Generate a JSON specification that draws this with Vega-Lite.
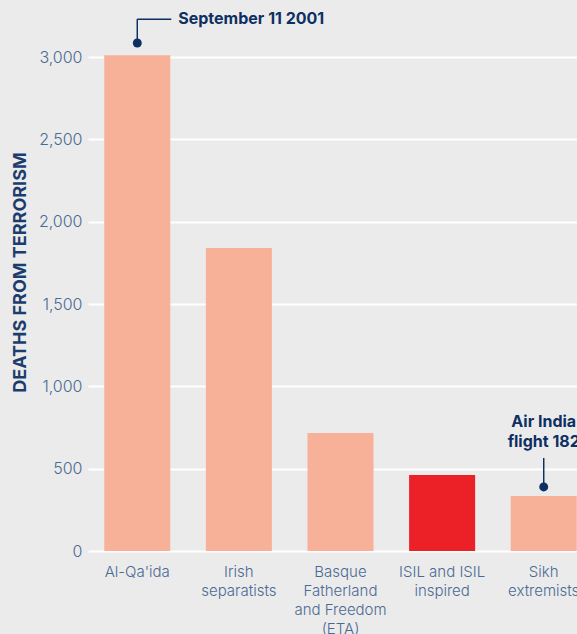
{
  "$schema": "https://vega.github.io/schema/vega-lite/v6.json",
  "autosize": {"type": "none"},
  "width": 505,
  "height": 494,
  "padding": {"left": 88, "top": 57, "right": 0, "bottom": 83},
  "background": "#ebebeb",
  "config": {
    "view": {"stroke": null},
    "font": "Inter",
    "axis": {"labelFont": "Inter", "titleFont": "Inter"}
  },
  "datasets": {
    "bars": [
      {"group": "Al-Qa'ida", "deaths": 3010, "highlight": "no"},
      {"group": "Irish|separatists", "deaths": 1840, "highlight": "no"},
      {"group": "Basque|Fatherland|and Freedom|(ETA)", "deaths": 716, "highlight": "no"},
      {"group": "ISIL and ISIL|inspired", "deaths": 461, "highlight": "yes"},
      {"group": "Sikh|extremists", "deaths": 334, "highlight": "no"}
    ],
    "notes": [
      {"group": "Al-Qa'ida", "dot": 3085, "top": 3230, "textY": 3230, "note": "September 11 2001"},
      {"group": "Sikh|extremists", "dot": 389, "top": 565, "textY": 784, "note": "Air India\nflight 182"}
    ]
  },
  "encoding": {
    "x": {
      "field": "group",
      "type": "nominal",
      "sort": null,
      "scale": {"paddingInner": 0.35, "paddingOuter": 0.16},
      "axis": {
        "title": null,
        "labelAngle": 0,
        "labelExpr": "split(datum.value, '|')",
        "labelFontSize": 15,
        "labelFontWeight": 300,
        "labelColor": "#4a6a94",
        "labelLineHeight": 19,
        "labelPadding": 13,
        "labelBaseline": "top",
        "domain": false,
        "ticks": false
      }
    }
  },
  "layer": [
    {
      "data": {"name": "bars"},
      "mark": {"type": "bar"},
      "encoding": {
        "y": {
          "field": "deaths",
          "type": "quantitative",
          "scale": {"domain": [0, 3000], "nice": false},
          "axis": {
            "title": "DEATHS FROM TERRORISM",
            "titleFontSize": 18,
            "titleFontWeight": "bold",
            "titleColor": "#1b3d6e",
            "titleAngle": -90,
            "titleX": -68,
            "titleY": 215,
            "titleAlign": "center",
            "titleBaseline": "middle",
            "values": [0, 500, 1000, 1500, 2000, 2500, 3000],
            "format": ",d",
            "labelFontSize": 16,
            "labelFontWeight": 300,
            "labelColor": "#4a6a94",
            "labelPadding": 6,
            "domain": false,
            "ticks": false,
            "grid": true,
            "gridColor": "#ffffff",
            "gridWidth": 2
          }
        },
        "color": {
          "field": "highlight",
          "type": "nominal",
          "scale": {"domain": ["no", "yes"], "range": ["#f8b199", "#ec2128"]},
          "legend": null
        }
      }
    },
    {
      "data": {"name": "notes"},
      "mark": {"type": "rule", "color": "#0e2f63", "strokeWidth": 1.5},
      "encoding": {
        "y": {"field": "dot", "type": "quantitative"},
        "y2": {"field": "top"}
      }
    },
    {
      "data": {"name": "notes"},
      "mark": {"type": "point", "filled": true, "color": "#0e2f63", "opacity": 1, "size": 80},
      "encoding": {
        "y": {"field": "dot", "type": "quantitative"}
      }
    },
    {
      "data": {"name": "notes"},
      "transform": [{"filter": "datum.group == \"Al-Qa'ida\""}],
      "mark": {"type": "rule", "color": "#0e2f63", "strokeWidth": 1.5, "x2Offset": 34},
      "encoding": {
        "y": {"field": "top", "type": "quantitative"},
        "x2": {"field": "group"}
      }
    },
    {
      "data": {"name": "notes"},
      "transform": [{"filter": "datum.group == \"Al-Qa'ida\""}],
      "mark": {"type": "text", "align": "left", "baseline": "middle", "xOffset": 41, "fontSize": 16, "fontWeight": "bold", "color": "#0e2f63"},
      "encoding": {
        "y": {"field": "textY", "type": "quantitative"},
        "text": {"field": "note"}
      }
    },
    {
      "data": {"name": "notes"},
      "transform": [{"filter": "datum.group == 'Sikh|extremists'"}],
      "mark": {"type": "text", "align": "center", "baseline": "middle", "lineBreak": "\n", "lineHeight": 20, "fontSize": 16, "fontWeight": "bold", "color": "#0e2f63"},
      "encoding": {
        "y": {"field": "textY", "type": "quantitative"},
        "text": {"field": "note"}
      }
    }
  ]
}
